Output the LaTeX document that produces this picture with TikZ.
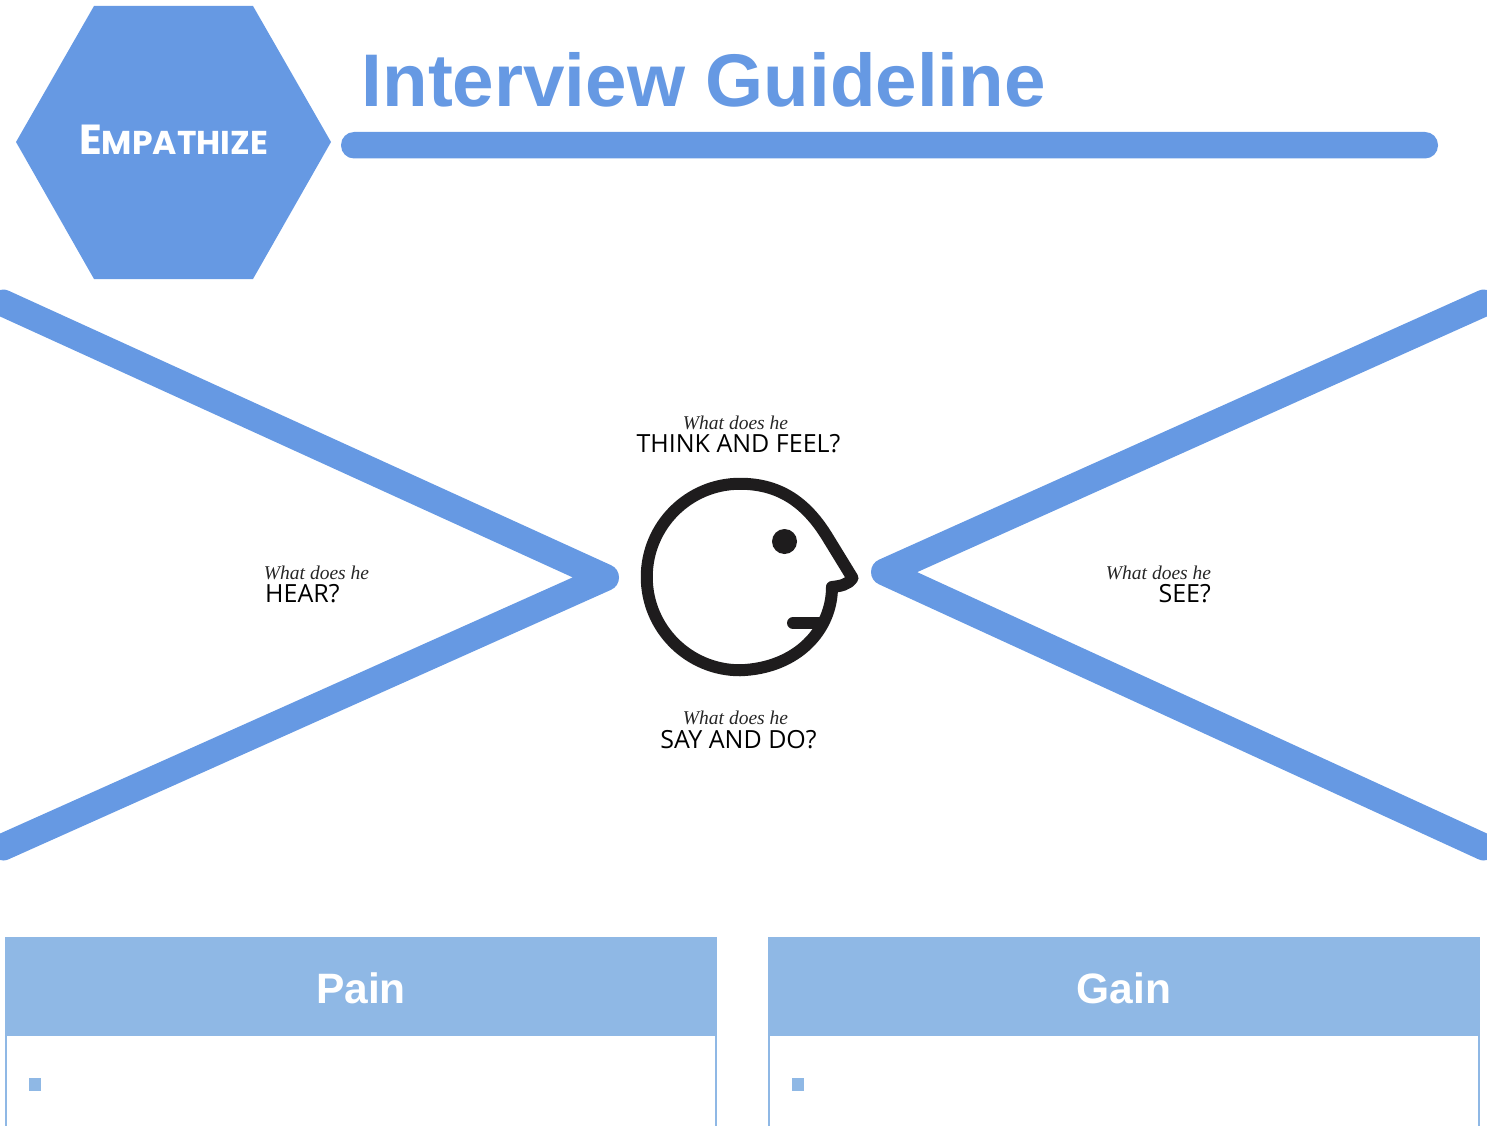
\documentclass[tikz,border=0pt]{standalone}
\usepackage{fontspec}
\setmainfont{Liberation Sans}
\newfontfamily\labelfont{Open Sans}
\newfontfamily\handfont{Liberation Serif}
\newfontfamily\badgefont{Poppins}
\definecolor{mainblue}{HTML}{6699E3}
\definecolor{paleblue}{HTML}{8FB8E5}
\definecolor{facedark}{HTML}{1E1C1D}
\newcommand{\px}[1]{\fontsize{#1}{#1}\selectfont}
\newcommand{\whathe}{{\handfont\itshape\px{19.5}What does he}}
\tikzset{
  xarm/.style={draw=mainblue,line width=27,line cap=round,line join=round},
  question/.style={font=\labelfont\px{25},text=black,inner sep=0,anchor=base},
  prompt/.style={inner sep=0,anchor=base,text=black!85},
  headcell/.style={fill=paleblue,draw=none},
  headtext/.style={font=\bfseries\px{42.5},text=white,inner sep=0,anchor=base},
  sideline/.style={draw=paleblue,line width=2},
  bullet/.style={fill=paleblue,draw=none},
  faceline/.style={draw=facedark,line width=12,line cap=round,line join=round}
}
\begin{document}
\begin{tikzpicture}[x=1pt,y=-1pt]
\useasboundingbox (0,0) rectangle (1487,1126);
\clip (0,0) rectangle (1487,1126);
% hexagon and title
\fill[mainblue] (94,6) -- (253,6) -- (331,142) -- (253,279) -- (94,279) -- (16,142) -- cycle;
\node[inner sep=0,anchor=base,text=white] (badge) at (173.5,155) {\badgefont\bfseries\px{42}E\px{33}MPATHIZE};
\node[inner sep=0,anchor=base west,text=mainblue,font=\bfseries\px{74.6}] (title) at (361.5,107) {Interview Guideline};
\fill[mainblue,rounded corners=13] (341,132) rectangle (1438,158.5);
% X arms
\draw[xarm] (3,303) -- (605.5,577.5) -- (3,847);
\draw[xarm] (1484,303) -- (884.5,572) -- (1484,847);
% face
\draw[faceline] (832,587) .. controls (840,586) and (848,585) .. (852.5,578)
  -- (828,538) .. controls (808,505) and (782,483.75) .. (740,483.75)
  arc[start angle=270,end angle=90,radius=93.25]
  .. controls (797,668.5) and (832,630) .. (832,587);
\draw[faceline] (793,623) -- (820,623);
\fill[facedark] (784.5,541.5) circle (12.5);
% labels
\node[prompt] (t1) at (735.5,429) {\whathe};
\node[question] (t2) at (738.5,452) {THINK AND FEEL?};
\node[prompt] (b1) at (735.5,724) {\whathe};
\node[question] (b2) at (738.5,748) {SAY AND DO?};
\node[prompt] (l1) at (316.5,579) {\whathe};
\node[question,anchor=base west] (l2) at (265,602) {HEAR?};
\node[prompt] (r1) at (1158.5,579) {\whathe};
\node[question,anchor=base east] (r2) at (1211,602) {SEE?};
% tables
\fill[headcell] (5,937) rectangle (717,1036);
\fill[headcell] (768,937) rectangle (1480,1036);
\node[headtext] (pain) at (361,1003.5) {Pain};
\node[headtext] (gain) at (1124,1003.5) {Gain};
\draw[sideline] (6,1036) -- (6,1126);
\draw[sideline] (716,1036) -- (716,1126);
\draw[sideline] (769,1036) -- (769,1126);
\draw[sideline] (1479,1036) -- (1479,1126);
\fill[bullet] (28.5,1078) rectangle (41,1090.5);
\fill[bullet] (791.5,1078) rectangle (804,1090.5);
\end{tikzpicture}
\end{document}
